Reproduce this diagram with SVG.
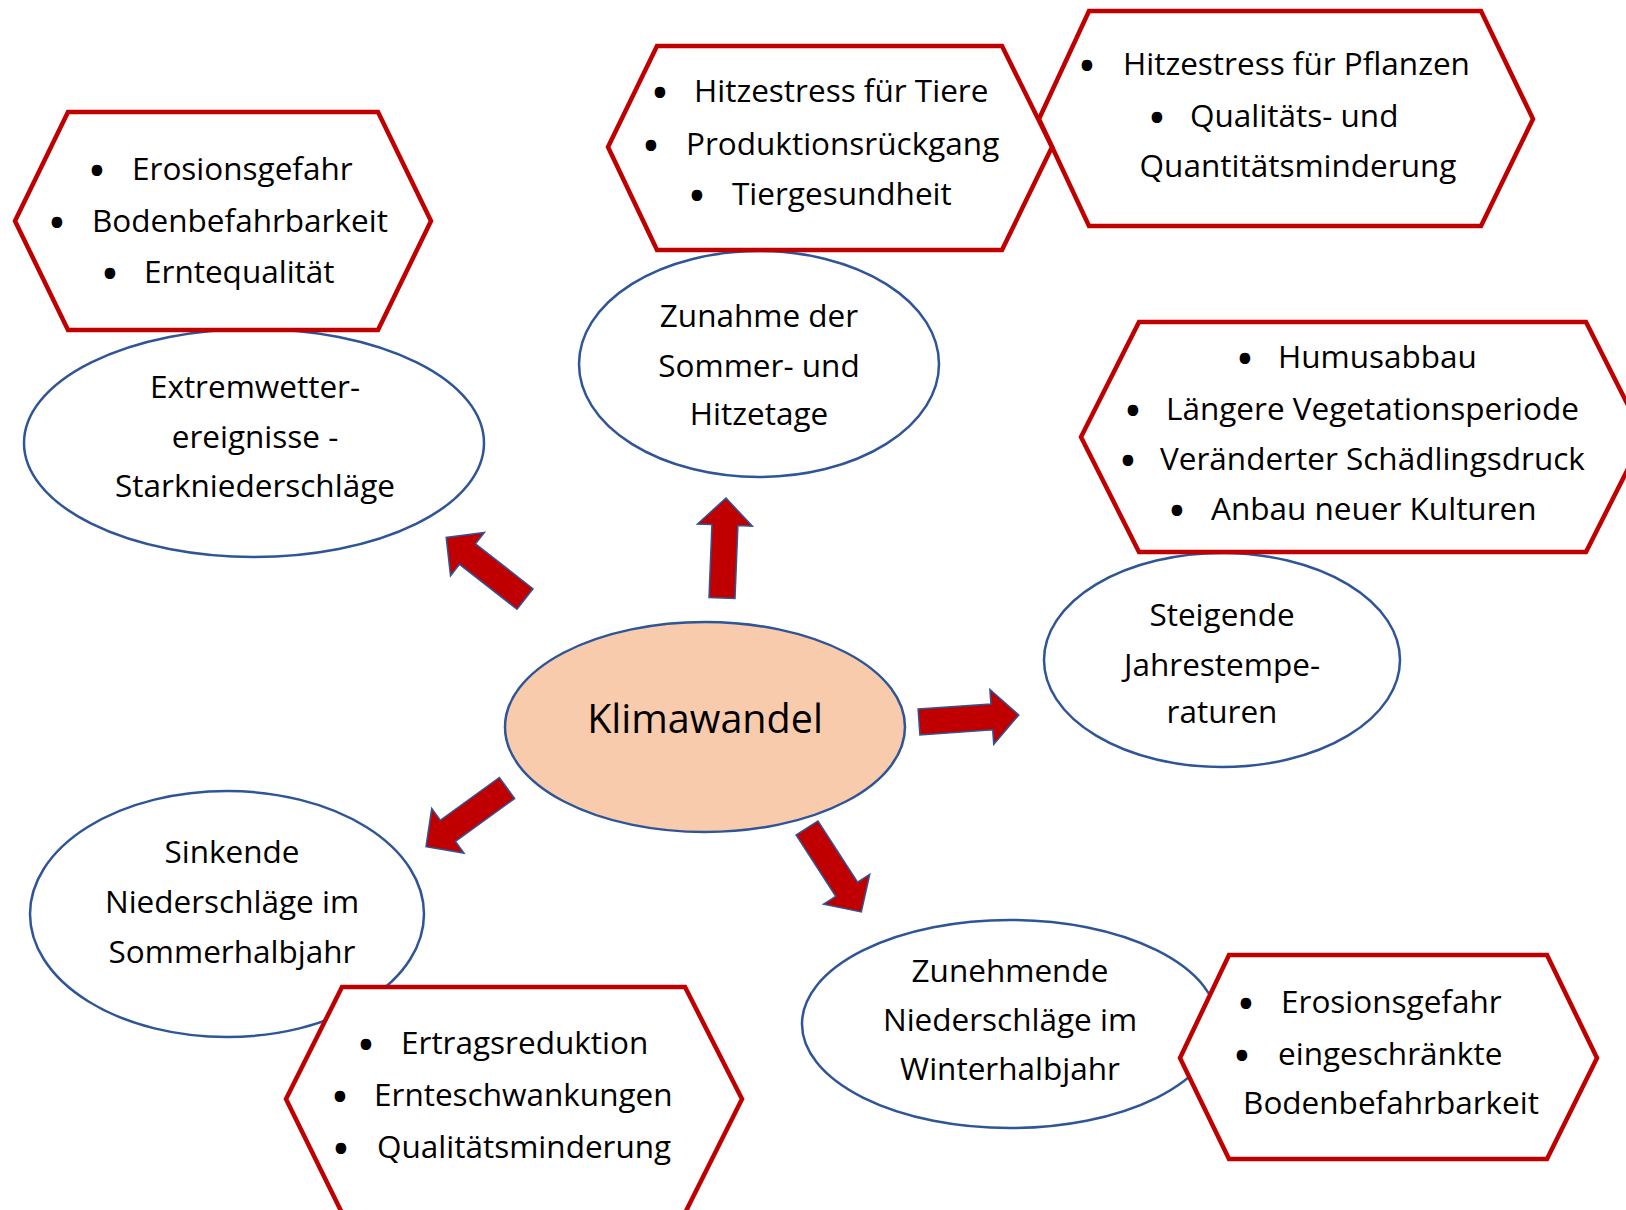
<svg xmlns="http://www.w3.org/2000/svg" xmlns:xlink="http://www.w3.org/1999/xlink" width="1626" height="1210" viewBox="0 0 1626 1210">
<style>
.hex{fill:#FFFFFF;stroke:#C00000;stroke-width:4.5;stroke-linejoin:miter}
.hexn{fill:none;stroke:#C00000;stroke-width:4.5;stroke-linejoin:miter}
.ell{fill:#FFFFFF;stroke:#2F5597;stroke-width:2.5}
.core{fill:#F8CBAD;stroke:#2F5597;stroke-width:2.5}
.t{font-family:"Open Sans","Liberation Sans",sans-serif;font-size:31.5px;fill:#000000}
.c{text-anchor:middle}
.bul{font-family:"Open Sans","Liberation Sans",sans-serif;font-size:31.5px;fill:#000000;stroke:#000000;stroke-width:4;text-anchor:middle}
.big{font-family:"Open Sans","Liberation Sans",sans-serif;font-size:39.5px;fill:#000000;text-anchor:middle}
.arr{fill:#C00000;stroke:#2F5597;stroke-width:1.5;stroke-linejoin:miter}
</style>
<defs>
<polygon id="arrow" points="0,-13 73,-13 73,-27.5 100,0 73,27.5 73,13 0,13"/>
</defs>
<rect width="1626" height="1210" fill="#FFFFFF"/>

<g id="ell-extremwetter">
<ellipse class="ell" cx="254" cy="443" rx="230" ry="114"/>
<text class="t c" x="255" y="398">Extremwetter-</text>
<text class="t c" x="255" y="448">ereignisse -</text>
<text class="t c" x="255" y="497">Starkniederschläge</text>
</g>
<g id="hex-extremwetter">
<polygon class="hex" points="15,221 68,112 378,112 431,221 378,330 68,330"/>
<text class="bul" x="97" y="182">•</text><text class="t" x="132" y="180">Erosionsgefahr</text>
<text class="bul" x="57" y="234">•</text><text class="t" x="92" y="232">Bodenbefahrbarkeit</text>
<text class="bul" x="110" y="285">•</text><text class="t" x="144" y="283">Erntequalität</text>
</g>

<g id="ell-hitzetage">
<ellipse class="ell" cx="759" cy="364" rx="180" ry="113"/>
<text class="t c" x="759" y="327">Zunahme der</text>
<text class="t c" x="759" y="377">Sommer- und</text>
<text class="t c" x="759" y="425">Hitzetage</text>
</g>
<g id="hex-tiere">
<polygon class="hex" points="608,147 657,46 1002,46 1052,147 1002,250 657,250"/>
<text class="bul" x="660" y="104">•</text><text class="t" x="694" y="102">Hitzestress für Tiere</text>
<text class="bul" x="651" y="157">•</text><text class="t" x="686" y="155">Produktionsrückgang</text>
<text class="bul" x="697" y="207">•</text><text class="t" x="732" y="205">Tiergesundheit</text>
</g>
<g id="hex-pflanzen">
<polygon class="hexn" points="1039,119 1089,11 1481,11 1533,119 1481,226 1089,226"/>
<text class="bul" x="1087" y="77">•</text><text class="t" x="1123" y="75">Hitzestress für Pflanzen</text>
<text class="bul" x="1157" y="129">•</text><text class="t" x="1190" y="127">Qualitäts- und</text>
<text class="t c" x="1298" y="177">Quantitätsminderung</text>
</g>

<g id="ell-jahrestemperaturen">
<ellipse class="ell" cx="1222" cy="660" rx="178" ry="107"/>
<text class="t c" x="1222" y="626">Steigende</text>
<text class="t c" x="1222" y="676">Jahrestempe-</text>
<text class="t c" x="1222" y="723">raturen</text>
</g>
<g id="hex-temperatur">
<polygon class="hex" points="1081,437 1139,322 1586,322 1644,437 1586,552 1139,552"/>
<text class="bul" x="1245" y="370">•</text><text class="t" x="1278" y="368">Humusabbau</text>
<text class="bul" x="1133" y="422">•</text><text class="t" x="1166" y="420">Längere Vegetationsperiode</text>
<text class="bul" x="1128" y="472">•</text><text class="t" x="1160" y="470">Veränderter Schädlingsdruck</text>
<text class="bul" x="1177" y="522">•</text><text class="t" x="1211" y="520">Anbau neuer Kulturen</text>
</g>

<g id="ell-klimawandel">
<ellipse class="core" cx="705" cy="727" rx="200" ry="105"/>
<text class="big" x="705" y="733">Klimawandel</text>
</g>

<g id="ell-sinkende">
<ellipse class="ell" cx="227" cy="914" rx="197" ry="123"/>
<text class="t c" x="232" y="863">Sinkende</text>
<text class="t c" x="232" y="913">Niederschläge im</text>
<text class="t c" x="232" y="963">Sommerhalbjahr</text>
</g>
<g id="hex-sinkende">
<polygon class="hex" points="286,1099 342,987 685,987 742,1099 685,1213 342,1213"/>
<text class="bul" x="366" y="1056">•</text><text class="t" x="401" y="1054">Ertragsreduktion</text>
<text class="bul" x="340" y="1108">•</text><text class="t" x="374" y="1106">Ernteschwankungen</text>
<text class="bul" x="341" y="1160">•</text><text class="t" x="377" y="1158">Qualitätsminderung</text>
</g>

<g id="ell-zunehmende">
<ellipse class="ell" cx="1010" cy="1024" rx="208" ry="104"/>
<text class="t c" x="1010" y="982">Zunehmende</text>
<text class="t c" x="1010" y="1031">Niederschläge im</text>
<text class="t c" x="1010" y="1080">Winterhalbjahr</text>
</g>
<g id="hex-zunehmende">
<polygon class="hex" points="1180,1058 1229,955 1547,955 1597,1058 1547,1159 1229,1159"/>
<text class="bul" x="1246" y="1015">•</text><text class="t" x="1281" y="1013">Erosionsgefahr</text>
<text class="bul" x="1242" y="1067">•</text><text class="t" x="1278" y="1065">eingeschränkte</text>
<text class="t c" x="1391" y="1114">Bodenbefahrbarkeit</text>
</g>

<g id="connectors">
<use xlink:href="#arrow" class="arr" transform="translate(722,598) rotate(-87.7)"/>
<use xlink:href="#arrow" class="arr" transform="translate(525,599) rotate(-142)"/>
<use xlink:href="#arrow" class="arr" transform="translate(919,722) rotate(-4)"/>
<use xlink:href="#arrow" class="arr" transform="translate(507,788) rotate(144.1)"/>
<use xlink:href="#arrow" class="arr" transform="translate(807,828) rotate(57.1)"/>
</g>
</svg>
